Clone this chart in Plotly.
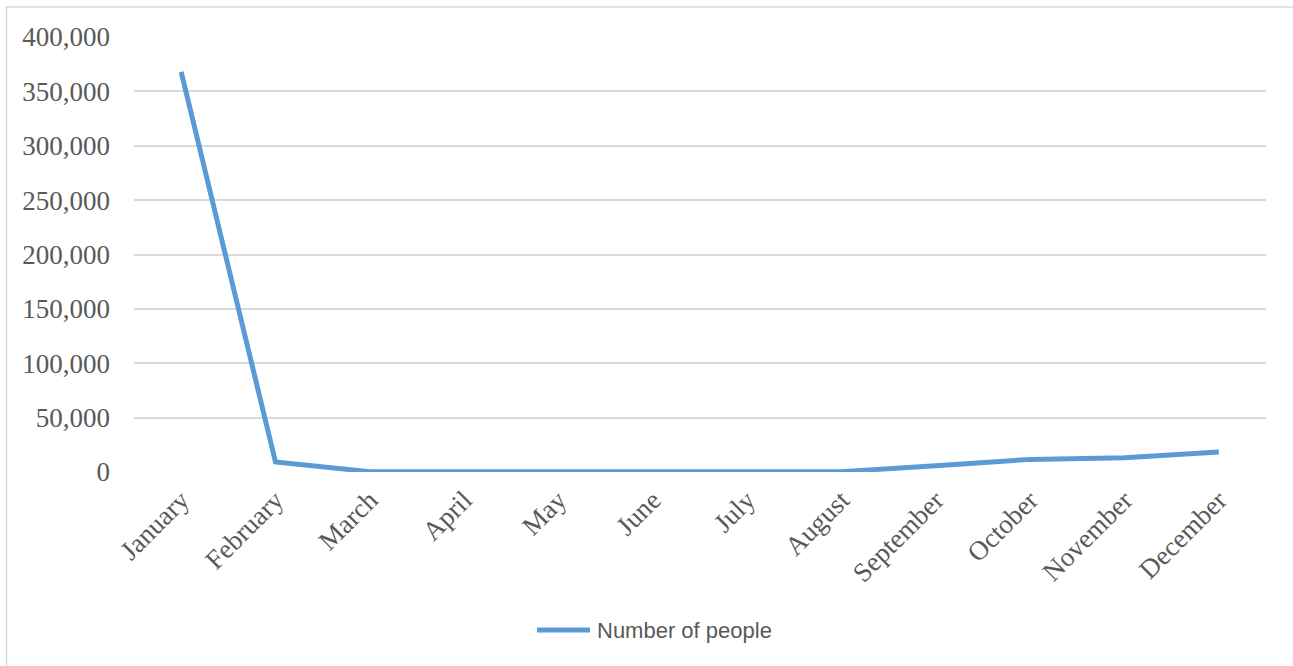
import plotly.graph_objects as go

months = ["January", "February", "March", "April", "May", "June",
          "July", "August", "September", "October", "November", "December"]
people = [368000, 9200, 300, 100, 50, 50, 100, 300, 5800, 11600, 13100, 18400]
y_ticks = [0, 50000, 100000, 150000, 200000, 250000, 300000, 350000, 400000]
series_name = "Number of people"

LINE_COLOR = "#5B9BD5"
TEXT_COLOR = "#595959"
GRID_COLOR = "#D9D9D9"

fig = go.Figure()
fig.add_trace(go.Scatter(
    x=months, y=people, mode="lines", name=series_name,
    line=dict(color=LINE_COLOR, width=5), showlegend=False,
))

W, H = 1293, 666
ml, mr, mt, mb = 134, 27, 37, 194
pw = W - ml - mr
ph = H - mt - mb

def px_x(x):
    return (x - ml) / pw

def px_y(y):
    return (H - mb - y) / ph

fig.update_layout(
    width=W, height=H,
    margin=dict(l=ml, r=mr, t=mt, b=mb),
    paper_bgcolor="white", plot_bgcolor="white",
    font=dict(family="Liberation Serif, Times New Roman, serif", size=27, color=TEXT_COLOR),
    xaxis=dict(
        type="category", range=[-0.5, 11.5], tickangle=-45,
        showgrid=False, showline=False, zeroline=False, ticks="",
        ticklabelstandoff=6,
        tickfont=dict(size=27, color=TEXT_COLOR),
    ),
    yaxis=dict(
        range=[0, 400000], tickvals=y_ticks, tickformat=",d",
        showgrid=True, gridcolor=GRID_COLOR, gridwidth=1.5,
        zeroline=False, showline=False, ticks="",
        ticklabelstandoff=23,
        tickfont=dict(size=27, color=TEXT_COLOR),
    ),
    shapes=[
        dict(type="rect", xref="paper", yref="paper",
             x0=px_x(6.5), x1=px_x(1300), y0=px_y(7), y1=px_y(700),
             line=dict(color=GRID_COLOR, width=1.5), layer="below"),
        dict(type="line", xref="paper", yref="paper",
             x0=px_x(537), x1=px_x(590), y0=px_y(630), y1=px_y(630),
             line=dict(color=LINE_COLOR, width=5)),
    ],
    annotations=[
        dict(text=series_name, xref="paper", yref="paper",
             x=px_x(595), y=px_y(630), xanchor="left", yanchor="middle",
             showarrow=False,
             font=dict(family="Liberation Sans, Arial, sans-serif", size=22, color=TEXT_COLOR)),
    ],
)

fig.write_html("out.html")
